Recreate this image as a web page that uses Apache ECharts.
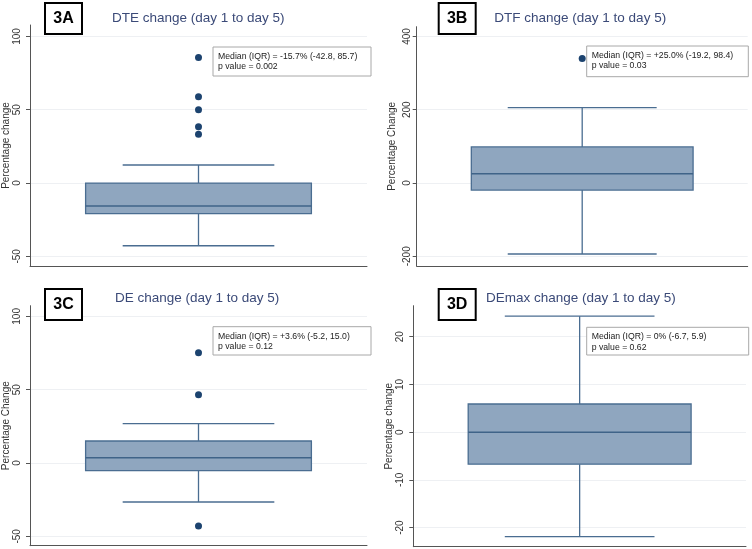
<!DOCTYPE html>
<html>
<head>
<meta charset="utf-8">
<script src="https://cdn.jsdelivr.net/npm/echarts@6/dist/echarts.min.js"></script>
<style>html,body{margin:0;padding:0;background:#fff;}#chart{width:752px;height:549px;}</style>
</head>
<body>
<div id="chart"></div>
<script>
// ---- data ----
const panelIds = ['3A', '3B', '3C', '3D'];
const titles = ['DTE change (day 1 to day 5)', 'DTF change (day 1 to day 5)', 'DE change (day 1 to day 5)', 'DEmax change (day 1 to day 5)'];
const yNames = ['Percentage change', 'Percentage Change', 'Percentage Change', 'Percentage change'];
// [lower whisker, Q1, median, Q3, upper whisker]
const boxA = [-42.8, -20.9, -15.7, 0, 12.3];
const boxB = [-193.7, -19.2, 25.0, 98.4, 205.5];
const boxC = [-26.6, -5.2, 3.6, 15.0, 26.8];
const boxD = [-21.9, -6.7, 0, 5.9, 24.3];
const outA = [85.7, 58.9, 50, 38.4, 33.2];
const outB = [340];
const outC = [75.2, 46.6, -43];
const outD = [];
const ticksA = [-50, 0, 50, 100];
const ticksB = [-200, 0, 200, 400];
const ticksC = [-50, 0, 50, 100];
const ticksD = [-20, -10, 0, 10, 20];
const rangeA = [-56.6, 107.8];
const rangeB = [-226.5, 426.5];
const rangeC = [-56.4, 107.3];
const rangeD = [-24.0, 26.5];
const notes = [
  ['Median (IQR) = -15.7% (-42.8, 85.7)', 'p value = 0.002'],
  ['Median (IQR) = +25.0% (-19.2, 98.4)', 'p value = 0.03'],
  ['Median (IQR) = +3.6% (-5.2, 15.0)', 'p value = 0.12'],
  ['Median (IQR) = 0% (-6.7, 5.9)', 'p value = 0.62']
];

// ---- layout ----
const boxes = [boxA, boxB, boxC, boxD];
const outs = [outA, outB, outC, outD];
const ticks = [ticksA, ticksB, ticksC, ticksD];
const ranges = [rangeA, rangeB, rangeC, rangeD];
const grids = [
  {left: 30, top: 25, width: 337, height: 241},
  {left: 416.7, top: 26.7, width: 331, height: 239.3},
  {left: 30, top: 305.7, width: 337, height: 240},
  {left: 413.3, top: 305.7, width: 332.7, height: 241}
];
const labelMargins = [8, 4, 8, 8];
const nameGaps = [16, 19, 16, 17];
const idBoxes = [[45, 3], [438.7, 3], [45, 289], [438.7, 289]];
const titlePos = [[112, 18], [494.3, 18], [115, 298], [486, 298]];
const noteBoxes = [[213, 47, 158, 29], [586.7, 46, 161.6, 30.7], [213, 326.7, 158, 28.3], [586.7, 327.3, 162, 27.7]];

const FILL = '#8fa6bf', STROKE = '#4a6d91', DOT = '#1c436f';
const FONT = '"Liberation Sans", Arial, sans-serif';

const option = {
  backgroundColor: '#fff',
  animation: false,
  grid: grids.map(g => Object.assign({containLabel: false}, g)),
  xAxis: grids.map((g, i) => ({
    type: 'category', gridIndex: i, data: [''], boundaryGap: true,
    axisLine: {show: true, onZero: false, lineStyle: {color: '#555', width: 1}},
    axisTick: {show: false}, axisLabel: {show: false}, splitLine: {show: false}
  })),
  yAxis: grids.map((g, i) => ({
    type: 'value', gridIndex: i, min: ranges[i][0], max: ranges[i][1],
    name: yNames[i], nameLocation: 'middle', nameGap: nameGaps[i],
    nameTextStyle: {fontFamily: FONT, fontSize: 10, color: '#333'},
    axisLine: {show: true, onZero: false, lineStyle: {color: '#555', width: 1}},
    axisTick: {show: true, length: 4, customValues: ticks[i], lineStyle: {color: '#555'}},
    axisLabel: {show: true, rotate: 90, margin: labelMargins[i], customValues: ticks[i],
      fontFamily: FONT, fontSize: 10, color: '#333'},
    splitLine: {show: true, lineStyle: {color: '#eef0f3', width: 1}}
  })),
  series: [],
  graphic: []
};

boxes.forEach((b, i) => {
  option.series.push({
    type: 'custom', xAxisIndex: i, yAxisIndex: i,
    data: [[0].concat(b)],
    encode: {x: 0, y: [1, 2, 3, 4, 5]},
    renderItem: function (params, api) {
      const band = api.size([1, 0])[0];
      const cx = api.coord([0, api.value(3)])[0];
      const hw = band * 0.335, cw = band * 0.225;
      const yLo = api.coord([0, api.value(1)])[1];
      const yQ1 = api.coord([0, api.value(2)])[1];
      const yMed = api.coord([0, api.value(3)])[1];
      const yQ3 = api.coord([0, api.value(4)])[1];
      const yHi = api.coord([0, api.value(5)])[1];
      const ls = {stroke: STROKE, lineWidth: 1.3};
      return {
        type: 'group',
        children: [
          {type: 'line', shape: {x1: cx, y1: yQ1, x2: cx, y2: yLo}, style: ls},
          {type: 'line', shape: {x1: cx, y1: yQ3, x2: cx, y2: yHi}, style: ls},
          {type: 'line', shape: {x1: cx - cw, y1: yLo, x2: cx + cw, y2: yLo}, style: ls},
          {type: 'line', shape: {x1: cx - cw, y1: yHi, x2: cx + cw, y2: yHi}, style: ls},
          {type: 'rect', shape: {x: cx - hw, y: yQ3, width: hw * 2, height: yQ1 - yQ3},
            style: {fill: FILL, stroke: STROKE, lineWidth: 1.3}},
          {type: 'line', shape: {x1: cx - hw, y1: yMed, x2: cx + hw, y2: yMed}, style: {stroke: '#3f6388', lineWidth: 1.5}}
        ]
      };
    }
  });
  option.series.push({
    type: 'scatter', xAxisIndex: i, yAxisIndex: i,
    data: outs[i].map(v => [0, v]),
    symbolSize: 7, itemStyle: {color: DOT, opacity: 1}
  });
});

for (let i = 0; i < 4; i++) {
  const [bx, by] = idBoxes[i];
  option.graphic.push({
    type: 'rect', z: 100, shape: {x: bx, y: by, width: 37, height: 31},
    style: {fill: '#fff', stroke: '#000', lineWidth: 2}
  });
  option.graphic.push({
    type: 'text', z: 101, x: bx + 18.5, y: by + 16,
    style: {text: panelIds[i], font: 'bold 16px ' + FONT, fill: '#000', align: 'center', verticalAlign: 'middle'}
  });
  option.graphic.push({
    type: 'text', z: 101, x: titlePos[i][0], y: titlePos[i][1],
    style: {text: titles[i], font: '13.5px ' + FONT, fill: '#3b4a78', align: 'left', verticalAlign: 'middle'}
  });
  const [nx, ny, nw, nh] = noteBoxes[i];
  option.graphic.push({
    type: 'rect', z: 100, shape: {x: nx, y: ny, width: nw, height: nh},
    style: {fill: '#fff', stroke: '#a8a8a8', lineWidth: 1}
  });
  option.graphic.push({
    type: 'text', z: 101, x: nx + 5, y: ny + 9.5,
    style: {text: notes[i][0], font: '8.7px ' + FONT, fill: '#222', align: 'left', verticalAlign: 'middle'}
  });
  option.graphic.push({
    type: 'text', z: 101, x: nx + 5, y: ny + 20,
    style: {text: notes[i][1], font: '8.7px ' + FONT, fill: '#222', align: 'left', verticalAlign: 'middle'}
  });
}

const chart = echarts.init(document.getElementById('chart'), null, {renderer: 'canvas'});
chart.setOption(option);
</script>
</body>
</html>
